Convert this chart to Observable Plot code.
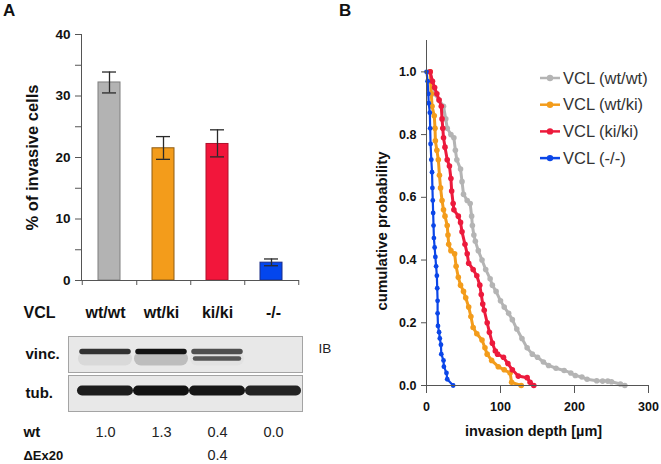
<!DOCTYPE html>
<html>
<head>
<meta charset="utf-8">
<script src="https://cdn.jsdelivr.net/npm/d3@7"></script>
<script src="https://cdn.jsdelivr.net/npm/@observablehq/plot@0.6"></script>
<style>
  html, body { margin: 0; padding: 0; background: #fff; }
  #root { position: relative; width: 661px; height: 464px; overflow: hidden; font-family: "Liberation Sans", Arial, sans-serif; }
  .panel-letter { position: absolute; font-weight: bold; font-size: 17px; color: #111; }
</style>
</head>
<body>
<div id="root">
  <div class="panel-letter" style="left:3px;top:1px;">A</div>
  <div class="panel-letter" style="left:339px;top:1px;">B</div>
</div>
<script>
// ---------------- DATA ----------------
const categories = ["wt/wt", "wt/ki", "ki/ki", "-/-"];
const invasive = [32.2, 21.5, 22.2, 2.9];
const errLow = [30.5, 19.7, 20.1, 2.4];
const errHigh = [33.9, 23.4, 24.5, 3.5];
const barFills = ["#b3b3b3", "#f39c1b", "#f2163b", "#0346ee"];
const barStrokes = ["#7e7e7e", "#8f5c12", "#b0102c", "#1b2c86"];
const yTicksA = [0, 10, 20, 30, 40];
const yMinorA = [5, 15, 25, 35];

// Western blot (band intensities 0..1 per lane)
const blotRows = ["vinc.", "tub."];
const vincUpper = [0.85, 1.0, 0.72, 0];
const vincLower = [0, 0, 0.68, 0];
const vincSmear = [0.07, 0.2, 0.03, 0];
const tubBand = [0.95, 1.0, 0.98, 0.92];
const quantRows = ["wt", "ΔEx20"];
const quantWt = [1.0, 1.3, 0.4, 0.0];
const quantDEx20 = [null, null, 0.4, null];

// Panel B: cumulative probability curves
const seriesNames = ["VCL (wt/wt)", "VCL (wt/ki)", "VCL (ki/ki)", "VCL (-/-)"];
const seriesColors = ["#b4b4b4", "#f39c1b", "#ec1a3c", "#0b46e8"];
const depthWtWt = [4,8,11,17,23,26,28,33,37,39,41,46,48,50,55,59,61,62,64,66,70,75,80,86,89,94,100,105,111,116,122,129,136,143,150,158,165,175,186,195,201,210,217,230,238,245,250,262,268];
const probWtWt = [1.0,0.97,0.93,0.91,0.89,0.85,0.82,0.80,0.79,0.75,0.72,0.69,0.65,0.61,0.59,0.58,0.54,0.51,0.48,0.46,0.43,0.40,0.37,0.34,0.32,0.30,0.27,0.25,0.23,0.21,0.18,0.15,0.12,0.10,0.09,0.075,0.064,0.055,0.048,0.04,0.032,0.027,0.02,0.015,0.014,0.014,0.012,0.005,0.0];
const depthWtKi = [5,5.5,6.5,7.5,10.5,11.5,12,14,16,17.5,19,21,23,25,28,29,30,33,38,40,43,46,50,53,57,60,63,68,75,79,82,88,97,105,113,115,128];
const probWtKi = [1.0,0.97,0.93,0.89,0.86,0.82,0.78,0.75,0.72,0.67,0.63,0.59,0.56,0.54,0.51,0.48,0.45,0.43,0.42,0.38,0.345,0.32,0.30,0.28,0.25,0.22,0.185,0.165,0.145,0.12,0.10,0.08,0.06,0.05,0.04,0.01,0.0];
const depthKiKi = [5,8,11,14,17,20,21,22,23,25,28,31,33,34,36,37,43,46,48,52,55,57,63,68,72,74,76,78,82,85,89,93,96,104,110,116,124,136,140,145];
const probKiKi = [1.0,0.97,0.95,0.93,0.91,0.89,0.85,0.82,0.79,0.76,0.72,0.70,0.66,0.62,0.58,0.56,0.54,0.52,0.49,0.45,0.42,0.39,0.37,0.35,0.32,0.29,0.26,0.24,0.20,0.17,0.135,0.11,0.10,0.09,0.07,0.05,0.03,0.025,0.01,0.0];
const depthKo = [0,1.5,2.5,3,4.5,5,5.5,6.5,7.5,8,8.5,9,9.5,10,11,12,13,14,14.5,15,15,15.5,17,18,19.5,20,23,23.5,27,28,36];
const probKo = [1.0,0.97,0.93,0.90,0.87,0.82,0.77,0.72,0.68,0.63,0.59,0.55,0.51,0.47,0.44,0.41,0.38,0.35,0.31,0.27,0.23,0.19,0.17,0.15,0.13,0.10,0.08,0.06,0.04,0.02,0.0];
const xTicksB = [0, 100, 200, 300];
const yTicksB = [0, 0.2, 0.4, 0.6, 0.8, 1.0];

// ---------------- HELPERS ----------------
const root = document.getElementById("root");
const FONT = "'Liberation Sans', Arial, Helvetica, sans-serif";
function place(node, left, top) {
  node.style.position = "absolute";
  node.style.left = left + "px";
  node.style.top = top + "px";
  root.appendChild(node);
}
const baseStyle = { fontFamily: FONT, background: "transparent", overflow: "visible", color: "#111" };

// ---------------- PANEL A: BAR CHART ----------------
const bars = categories.map((c, i) => ({ cat: c, v: invasive[i], lo: errLow[i], hi: errHigh[i], fill: barFills[i], stroke: barStrokes[i] }));
const wA = 330, mLA = 81, mRA = 31;
const stepA = (wA - mLA - mRA) / categories.length;

const barChart = Plot.plot({
  width: wA, height: 300,
  marginLeft: mLA, marginRight: mRA, marginTop: 34, marginBottom: 20,
  style: baseStyle,
  x: { type: "band", domain: categories, paddingInner: 0.6, paddingOuter: 0.3 },
  y: { domain: [0, 40] },
  color: { type: "identity" },
  marks: [
    Plot.barY(bars, { x: "cat", y: "v", fill: "fill", stroke: "stroke", strokeWidth: 1 }),
    Plot.ruleX(bars, { x: "cat", y1: "lo", y2: "hi", stroke: "#2a2a2a", strokeWidth: 1.3 }),
    Plot.tickY(bars, { x: "cat", y: "lo", stroke: "#2a2a2a", strokeWidth: 1.3, insetLeft: 4, insetRight: 4 }),
    Plot.tickY(bars, { x: "cat", y: "hi", stroke: "#2a2a2a", strokeWidth: 1.3, insetLeft: 4, insetRight: 4 }),
    Plot.frame({ anchor: "left", stroke: "#555" }),
    Plot.ruleY([0], { stroke: "#555" }),
    Plot.axisY({ ticks: yTicksA, tickSize: 6, tickPadding: 5, fontWeight: "bold", fontSize: 13.5, label: null, stroke: "#555" }),
    Plot.axisY({ ticks: yMinorA, tickSize: 6, tickFormat: () => "", label: null, stroke: "#555" }),
    Plot.axisX({ tickSize: 5, tickFormat: () => "", label: null, dx: stepA / 2, stroke: "#555" }),
    Plot.axisX({ ticks: [categories[0]], tickSize: 5, tickFormat: () => "", label: null, dx: -stepA / 2, stroke: "#555" }),
    Plot.text(["% of invasive cells"], { text: d => d, frameAnchor: "left", textAnchor: "middle", rotate: -90, dx: -49, fontWeight: "bold", fontSize: 16.5, fill: "#111" })
  ]
});
place(barChart, 0, 0);

// ---------------- PANEL A: LANE HEADER ----------------
const laneRange = [76, 302];
const header = Plot.plot({
  width: 330, height: 24, marginLeft: 68, marginRight: 28, marginTop: 0, marginBottom: 0,
  style: baseStyle,
  x: { type: "band", domain: categories, range: laneRange, padding: 0, axis: null },
  marks: [
    Plot.text(categories, { x: d => d, text: d => d, frameAnchor: "middle", fontWeight: "bold", fontSize: 16, fill: "#111" }),
    Plot.text(["VCL"], { text: d => d, frameAnchor: "left", dx: -45, textAnchor: "start", fontWeight: "bold", fontSize: 16, fill: "#111" })
  ]
});
place(header, 0, 300);

// ---------------- PANEL A: BLOT ----------------
const bandData = [];
categories.forEach((lane, i) => {
  if (vincSmear[i] > 0) bandData.push({ lane, row: "vinc.", pos: "lower", k: vincSmear[i], kind: "smear" });
  if (vincUpper[i] > 0) bandData.push({ lane, row: "vinc.", pos: "upper", k: vincUpper[i], kind: "upper" });
  if (vincLower[i] > 0) bandData.push({ lane, row: "vinc.", pos: "lower", k: vincLower[i], kind: "lower" });
  if (tubBand[i] > 0) bandData.push({ lane, row: "tub.", pos: "upper", k: tubBand[i], kind: "tub" });
});
const shade = d3.interpolateRgb("#e8e8e8", "#121212");
const bandMark = (kind, width, inset) => Plot.tickY(bandData.filter(d => d.kind === kind), {
  x: "lane", y: "pos", fy: "row", stroke: d => shade(d.k), strokeWidth: width,
  insetLeft: inset, insetRight: inset, strokeLinecap: "round", ariaLabel: "band"
});
const blot = Plot.plot({
  width: 330, height: 84, marginLeft: 68, marginRight: 28, marginTop: 5, marginBottom: 3,
  style: baseStyle,
  x: { type: "band", domain: categories, range: laneRange, padding: 0, axis: null },
  y: { type: "point", domain: ["upper", "lower"], padding: 2, axis: null },
  fy: { domain: blotRows, paddingInner: 0.08, paddingOuter: 0, axis: null },
  color: { type: "identity" },
  marks: [
    Plot.frame({ fill: "#e8e8e8", stroke: "#a4a4a4" }),
    bandMark("smear", 14, 8),
    bandMark("upper", 5.5, 5),
    bandMark("lower", 4.5, 6),
    bandMark("tub", 10, 5),
    Plot.text(blotRows, { fy: d => d, text: d => d, frameAnchor: "left", dx: -43, textAnchor: "start", fontWeight: "bold", fontSize: 15, fill: "#111" }),
    Plot.text(["IB"], { fy: () => "vinc.", text: d => d, frameAnchor: "top-right", dx: 16, dy: 12, lineAnchor: "middle", textAnchor: "start", fontSize: 13.5, fill: "#222" })
  ]
});
{
  const ns = "http://www.w3.org/2000/svg";
  const defs = document.createElementNS(ns, "defs");
  const filt = document.createElementNS(ns, "filter");
  filt.setAttribute("id", "bandBlur");
  filt.setAttribute("x", "-20%"); filt.setAttribute("y", "-100%");
  filt.setAttribute("width", "140%"); filt.setAttribute("height", "300%");
  const gb = document.createElementNS(ns, "feGaussianBlur");
  gb.setAttribute("stdDeviation", "1.4");
  filt.appendChild(gb); defs.appendChild(filt); blot.insertBefore(defs, blot.firstChild);
  blot.querySelectorAll('g[aria-label="band"]').forEach(g => g.setAttribute("filter", "url(#bandBlur)"));
}
place(blot, 0, 330);

// ---------------- PANEL A: QUANTIFICATION ----------------
const quantData = [];
categories.forEach((lane, i) => {
  if (quantWt[i] != null) quantData.push({ lane, row: "wt", v: quantWt[i] });
  if (quantDEx20[i] != null) quantData.push({ lane, row: "ΔEx20", v: quantDEx20[i] });
});
const quant = Plot.plot({
  width: 330, height: 44, marginLeft: 68, marginRight: 28, marginTop: 13, marginBottom: 8,
  style: baseStyle,
  x: { type: "band", domain: categories, range: laneRange, padding: 0, axis: null },
  y: { type: "point", domain: quantRows, padding: 0, axis: null },
  marks: [
    Plot.text(quantData, { x: "lane", y: "row", text: d => d.v.toFixed(1), fontSize: 14.5, fill: "#222" }),
    Plot.text(quantRows, { y: d => d, text: d => d, frameAnchor: "left", dx: -45, textAnchor: "start", fontWeight: "bold",
      fontSize: d => d === "wt" ? 15 : 13, fill: "#111" })
  ]
});
place(quant, 0, 419);

// ---------------- PANEL B: CUMULATIVE PROBABILITY ----------------
const depths = [depthWtWt, depthWtKi, depthKiKi, depthKo];
const probs = [probWtWt, probWtKi, probKiKi, probKo];
const curveMarks = [];
seriesNames.forEach((name, s) => {
  const pts = depths[s].map((d, i) => ({ series: name, depth: d, prob: probs[s][i] }));
  curveMarks.push(Plot.line(pts, { x: "depth", y: "prob", stroke: "series", strokeWidth: s === 3 ? 2.2 : 3 }));
  curveMarks.push(Plot.dot(pts, { x: "depth", y: "prob", fill: "series", r: s === 3 ? 2.4 : 2.8 }));
});
const cum = Plot.plot({
  width: 331, height: 445, marginLeft: 96, marginRight: 13, marginTop: 40, marginBottom: 60,
  style: baseStyle,
  x: { domain: [0, 300] },
  y: { domain: [0, 1.1] },
  color: { domain: seriesNames, range: seriesColors },
  marks: [
    ...curveMarks,
    Plot.frame({ anchor: "left", stroke: "#555" }),
    Plot.frame({ anchor: "bottom", stroke: "#555" }),
    Plot.axisY({ ticks: yTicksB, tickFormat: ".1f", tickSize: 5, tickPadding: 5, fontWeight: "bold", fontSize: 12.5, label: null, stroke: "#555" }),
    Plot.axisX({ ticks: xTicksB, tickSize: 8, tickPadding: 9, fontWeight: "bold", fontSize: 12.5, label: null, stroke: "#555" }),
    Plot.text(["cumulative probability"], { text: d => d, frameAnchor: "left", textAnchor: "middle", rotate: -90, dx: -44, dy: 18, fontWeight: "bold", fontSize: 15, fill: "#111" }),
    Plot.text(["invasion depth [µm]"], { text: d => d, frameAnchor: "bottom", textAnchor: "middle", dx: -4, dy: 46, lineAnchor: "middle", fontWeight: "bold", fontSize: 14.5, fill: "#111" })
  ]
});
place(cum, 330, 0);

// Legend (line + dot swatches)
const colorScale = cum.scale("color");
const leg = d3.create("svg").attr("width", 126).attr("height", 112)
  .style("font-family", FONT).style("overflow", "visible");
seriesNames.forEach((name, i) => {
  const y = 16 + i * 26.7;
  const c = colorScale.apply(name);
  const g = leg.append("g");
  g.append("line").attr("x1", 5).attr("x2", 25).attr("y1", y).attr("y2", y).attr("stroke", c).attr("stroke-width", 2.5);
  g.append("circle").attr("cx", 15).attr("cy", y).attr("r", 3.2).attr("fill", c);
  g.append("text").attr("x", 28).attr("y", y).attr("dy", "0.35em").attr("font-size", 16.5).attr("fill", "#333").text(name);
});
place(leg.node(), 535, 62);
</script>
</body>
</html>
